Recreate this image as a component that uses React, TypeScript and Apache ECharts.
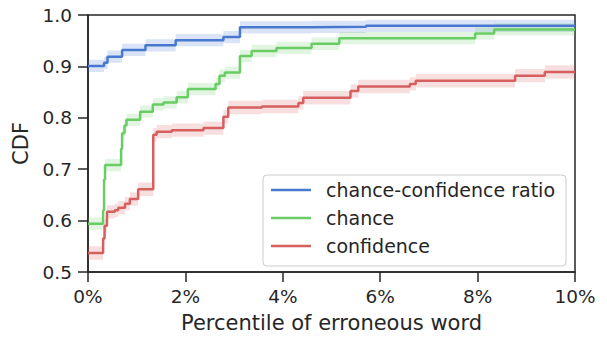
import React, { useEffect, useRef } from "react";
import * as echarts from "echarts";

// [percentile %, CDF] step points (value holds from x until next point)
const ratioPoints: [number, number][] = [
  [0, 0.901], [0.33, 0.907], [0.40, 0.919], [0.70, 0.932], [1.18, 0.941],
  [1.80, 0.951], [2.78, 0.957], [3.12, 0.976], [4.59, 0.977], [5.71, 0.979], [10, 0.979],
];
const chancePoints: [number, number][] = [
  [0, 0.594], [0.31, 0.62], [0.33, 0.68], [0.35, 0.708], [0.68, 0.74], [0.70, 0.77],
  [0.75, 0.785], [0.79, 0.796], [1.07, 0.812], [1.33, 0.826], [1.55, 0.830], [1.82, 0.840],
  [2.05, 0.856], [2.62, 0.866], [2.70, 0.882], [2.81, 0.888], [3.12, 0.920], [3.36, 0.930],
  [3.87, 0.936], [4.59, 0.944], [5.16, 0.955], [7.95, 0.964], [8.34, 0.972], [10, 0.972],
];
const confidencePoints: [number, number][] = [
  [0, 0.537], [0.31, 0.565], [0.34, 0.59], [0.39, 0.617], [0.55, 0.620], [0.62, 0.625],
  [0.76, 0.633], [0.86, 0.642], [1.03, 0.661], [1.34, 0.767], [1.41, 0.773], [1.72, 0.776],
  [2.37, 0.780], [2.78, 0.802], [2.88, 0.820], [3.57, 0.822], [4.32, 0.829], [4.42, 0.839],
  [5.39, 0.852], [5.55, 0.861], [6.61, 0.866], [6.73, 0.872], [8.77, 0.882], [9.38, 0.889],
  [10, 0.889],
];
const seriesNames = ["chance-confidence ratio", "chance", "confidence"];
const seriesColors = ["#4878d0", "#6acc64", "#d65f5f"];
const bandHalfWidths = [0.012, 0.012, 0.013];
const xTicks = [0, 2, 4, 6, 8, 10];
const yTicks = [0.5, 0.6, 0.7, 0.8, 0.9, 1.0];

const FONT = "DejaVu Sans";
const INK = "#262626";

export default function App() {
  const ref = useRef<HTMLDivElement>(null);
  useEffect(() => {
    if (!ref.current) return;
    const chart = echarts.init(ref.current, undefined, { renderer: "svg" });
    const all = [ratioPoints, chancePoints, confidencePoints];
    const series: any[] = [];
    all.forEach((pts, i) => {
      const h = bandHalfWidths[i];
      series.push({
        name: `band-${i}`,
        type: "custom",
        data: pts,
        silent: true,
        clip: true,
        z: 1,
        renderItem: (params: any, api: any) => {
          if (params.dataIndex !== 0) return null;
          const upper: number[][] = [];
          const lower: number[][] = [];
          for (let k = 0; k < pts.length - 1; k++) {
            const [x0, y] = pts[k];
            const x1 = pts[k + 1][0];
            upper.push(api.coord([x0, y + h]), api.coord([x1, y + h]));
            lower.push(api.coord([x0, y - h]), api.coord([x1, y - h]));
          }
          const poly = upper.concat(lower.reverse());
          return {
            type: "polygon",
            shape: { points: poly },
            style: { fill: seriesColors[i], opacity: 0.2, stroke: "none" },
          };
        },
      });
    });
    all.forEach((pts, i) => {
      series.push({
        name: seriesNames[i],
        type: "line",
        step: "end",
        data: pts,
        symbol: "none",
        color: seriesColors[i],
        lineStyle: { color: seriesColors[i], width: 2.5 },
        z: 3,
      });
    });
    chart.setOption({
      animation: false,
      textStyle: { fontFamily: FONT, color: INK },
      grid: {
        left: 88, right: 32, top: 15, bottom: 62,
        show: true, borderColor: INK, borderWidth: 1.5, backgroundColor: "transparent",
      },
      legend: {
        data: seriesNames.map((n) => ({ name: n, icon: "rect" })),
        left: 263,
        top: 175,
        orient: "vertical",
        itemWidth: 40,
        itemHeight: 2.5,
        itemGap: 6,
        padding: [4, 11, 9, 8],
        backgroundColor: "rgba(255,255,255,0.8)",
        borderColor: "#cccccc",
        borderWidth: 1,
        borderRadius: 4,
        textStyle: { fontFamily: FONT, fontSize: 19, color: INK, lineHeight: 22, padding: [0, 0, 0, 10] },
      },
      xAxis: {
        type: "value",
        min: xTicks[0],
        max: xTicks[xTicks.length - 1],
        interval: 2,
        name: "Percentile of erroneous word",
        nameLocation: "middle",
        nameGap: 40,
        nameTextStyle: { fontFamily: FONT, fontSize: 21, color: INK },
        axisLine: { show: true, lineStyle: { color: INK, width: 1.5 } },
        axisTick: { show: true, length: 10, lineStyle: { color: INK, width: 1.5 } },
        axisLabel: { formatter: "{value}%", fontSize: 18.5, color: INK, margin: 15, fontFamily: FONT },
        splitLine: { show: false },
      },
      yAxis: {
        type: "value",
        min: yTicks[0],
        max: yTicks[yTicks.length - 1],
        interval: 0.1,
        name: "CDF",
        nameLocation: "middle",
        nameGap: 57,
        nameTextStyle: { fontFamily: FONT, fontSize: 21, color: INK },
        axisLine: { show: true, lineStyle: { color: INK, width: 1.5 } },
        axisTick: { show: true, length: 10, lineStyle: { color: INK, width: 1.5 } },
        axisLabel: {
          formatter: (v: number) => v.toFixed(1),
          fontSize: 18.5, color: INK, margin: 16, fontFamily: FONT,
        },
        splitLine: { show: false },
      },
      series,
    });
    return () => chart.dispose();
  }, []);
  return <div ref={ref} style={{ width: 607, height: 338, position: "absolute", left: 0, top: 0, background: "#fff" }} />;
}
